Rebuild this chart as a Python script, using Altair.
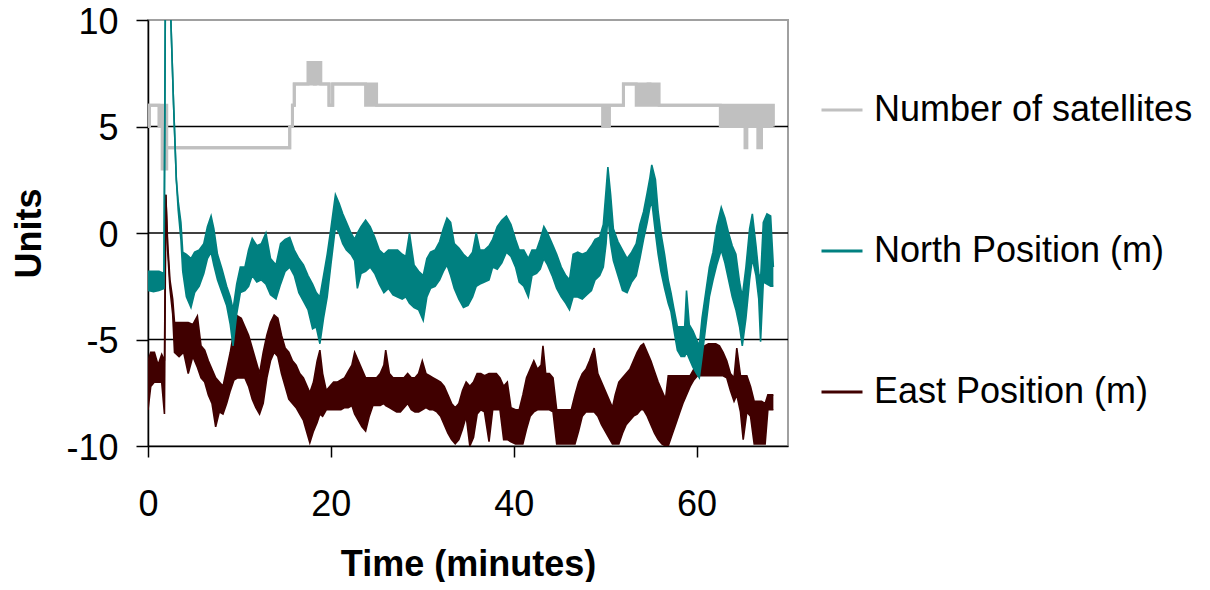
import altair as alt
import pandas as pd

FONT = "Liberation Sans, Arial, Helvetica, sans-serif"
SERIES = ["Number of satellites", "North Position (m)", "East Position (m)"]
COLORS = ["#c0c0c0", "#008080", "#400000"]
X_TICKS = [0, 20, 40, 60]
Y_TICKS = [-10, -5, 0, 5, 10]
GRID_Y = [-5, 0, 5]

# Number of satellites (step series): time (min), low, high of the toggling band
SAT_T = [0.0, 0.16, 1.2, 1.55, 2.05, 15.5, 15.8, 16.0, 17.5, 18.2, 18.3, 18.9,
         19.8, 20.2, 23.8, 25.0, 49.75, 50.0, 50.15, 50.45, 52.0, 53.4, 54.7,
         54.9, 55.9, 62.6, 65.3, 65.5, 66.7, 67.1, 68.4]
SAT_LO = [5, 6, 5, 3, 4, 5, 6, 7, 7, 7, 7, 7,
          6, 7, 6, 6, 5, 6, 5, 6, 7, 6, 7,
          6, 6, 5, 4, 5, 4, 5, 5]
SAT_HI = [5, 6, 6, 6, 4, 5, 6, 7, 8, 7, 8, 7,
          6, 7, 7, 6, 5, 6, 5, 6, 7, 7, 7,
          7, 6, 6, 6, 6, 6, 6, 5]

# North position (m): time, low, high envelope of the jittering trace
N_T = [0.0, 0.6, 1.2, 1.75, 1.9, 2.3, 2.5, 2.8, 3.1, 3.3, 3.6, 3.8, 4.2, 4.7, 5.1,
       5.6, 6.1, 6.5, 6.9, 7.2, 7.6, 8.1, 8.6, 9.0, 9.3, 9.7, 10.1, 10.6, 11.0,
       11.4, 11.9, 12.4, 12.9, 13.4, 14.0, 14.5, 15.0, 15.5, 16.0, 16.5, 17.0,
       17.5, 18.0, 18.4, 18.8, 19.2, 19.6, 20.0, 20.5, 20.9, 21.3, 21.7, 22.2,
       22.6, 22.9, 23.3, 23.8, 24.3, 24.8, 25.3, 25.8, 26.3, 26.8, 27.3, 27.8,
       28.2, 28.6, 29.1, 29.6, 30.1, 30.5, 30.9, 31.4, 31.9, 32.3, 32.7, 33.1,
       33.5, 34.0, 34.5, 35.0, 35.5, 35.9, 36.3, 36.8, 37.3, 37.7, 38.2, 38.7,
       39.2, 39.7, 40.2, 40.6, 41.1, 41.6, 42.0, 42.5, 42.9, 43.3, 43.7, 44.2,
       44.7, 45.2, 45.7, 46.1, 46.5, 47.0, 47.5, 48.0, 48.5, 48.9, 49.4, 49.8,
       50.1, 50.3, 50.6, 50.9, 51.4, 51.9, 52.4, 52.9, 53.4, 53.8, 54.2, 54.6,
       54.9, 55.1, 55.5, 55.8, 56.1, 56.5, 56.9, 57.2, 57.5, 57.9, 58.3, 58.7,
       58.9, 59.2, 59.6, 60.0, 60.3, 60.6, 61.0, 61.4, 61.8, 62.2, 62.7, 63.1,
       63.5, 63.9, 64.3, 64.7, 65.0, 65.4, 65.8, 66.1, 66.5, 66.8, 67.0, 67.3,
       67.7, 68.1, 68.4]
N_LO = [-2.7, -2.75, -2.7, -2.6, 11, 12, 10, 6, 2.5, 1.1, -0.3, -1.8, -3.0, -3.5, -2.8,
        -2.5, -1.9, -1.2, -0.9, -1.5, -2.2, -2.8, -3.4, -4.3, -5.3, -3.8, -2.8, -2.7, -2.5,
        -2.0, -2.3, -2.2, -2.4, -2.9, -3.1, -2.4, -1.8, -1.6, -2.0, -2.8, -3.2,
        -3.6, -4.5, -4.4, -5.2, -4.0, -3.0, -1.5, 0.3, 0.0, -0.5, -0.8, -1.0,
        -1.3, -2.6, -1.9, -1.8, -1.6, -1.9, -2.4, -2.8, -2.6, -2.9, -3.0, -3.1,
        -3.0, -3.3, -3.5, -3.6, -4.1, -3.0, -2.6, -2.5, -2.2, -1.8, -1.5, -2.0,
        -2.6, -3.1, -3.5, -3.4, -3.0, -2.5, -2.4, -2.3, -2.2, -1.6, -1.7, -1.4,
        -0.9, -1.1, -1.6, -2.3, -2.5, -3.0, -2.0, -1.9, -1.7, -1.2, -1.5, -2.0,
        -2.6, -3.0, -3.3, -3.6, -3.0, -3.0, -3.1, -2.9, -2.7, -2.2, -2.0, -1.6,
        -0.5, 0.8, -0.5, -1.3, -2.0, -2.7, -2.8, -2.3, -2.0, -1.2, -0.3, 0.5,
        1.2, 1.5, 0.0, -1.0, -1.8, -2.6, -3.3, -3.7, -4.5, -5.5, -5.8, -5.8,
        -5.6, -5.9, -6.3, -6.6, -6.8, -5.8, -4.4, -3.0, -2.2, -1.5, -0.8, -1.4,
        -2.2, -3.0, -3.6, -4.4, -5.3, -4.0, -2.2, -1.2, -2.0, -3.1, -5.1, -2.3,
        -2.4, -2.5, -2.5]
N_HI = [-1.8, -1.8, -1.8, -1.9, 11, 12, 10, 6, 2.5, 1.5, 0.5, -0.9, -1.0, -1.2, -0.9,
        -0.8, -0.5, 0.3, 0.8, 0.2, -1.0, -1.7, -2.5, -3.0, -3.6, -2.4, -1.6, -1.6, -0.8,
        -0.25, -0.6, -0.5, 0.0, -1.2, -1.5, -0.5, -0.3, -0.2, -0.8, -1.2, -1.5,
        -2.0, -2.4, -2.8, -3.0, -2.0, -1.0, 0.2, 1.8, 1.4, 0.9, 0.5, 0.0,
        -0.3, 0.0, 0.3, 0.6, 0.3, -0.2, -0.8, -1.0, -0.8, -0.8, -0.8, -1.0,
        -1.1, 0.0, -1.5, -1.8, -2.0, -1.2, -0.9, -0.8, -0.4, 0.2, 0.7, 0.5,
        -0.5, -0.7, -1.0, -1.2, -0.9, 0.0, -0.8, -0.8, -0.6, -0.3, 0.3, 0.6,
        0.8, 0.4, -0.3, -0.8, -0.8, -1.2, -0.8, -0.8, -0.3, 0.3, 0.0, -0.5,
        -1.0, -1.6, -2.0, -2.2, -1.0, -0.9, -1.0, -0.9, -0.6, -0.3, -0.2, 0.4,
        2.0, 3.1, 1.8, 0.2, -0.4, -0.8, -1.2, -0.9, -0.5, 0.4, 1.0, 1.9,
        2.6, 3.2, 2.5, 1.0, 0.0, -1.0, -2.2, -2.8, -3.5, -4.4, -4.4, -4.4,
        -2.7, -4.3, -4.6, -5.0, -5.3, -4.0, -2.8, -1.6, -0.9, 0.3, 1.2, 0.7,
        0.0, -0.6, -1.0, -2.3, -3.0, -1.6, 0.2, 0.9, -0.6, -1.9, -2.2, 0.5,
        0.9, 0.8, -1.6]

# East position (m): time, low, high envelope of the jittering trace
E_T = [0.0, 0.3, 0.7, 1.1, 1.5, 1.8, 1.95, 2.15, 2.4, 2.7, 2.9, 3.4, 3.9, 4.4, 4.9,
       5.4, 5.8, 6.2, 6.6, 7.0, 7.4, 7.8, 8.2, 8.6, 9.0, 9.4, 9.8, 10.2, 10.6,
       11.0, 11.4, 11.8, 12.2, 12.6, 13.0, 13.4, 13.8, 14.2, 14.6, 15.0, 15.4,
       15.8, 16.2, 16.6, 17.0, 17.4, 17.7, 18.1, 18.5, 18.8, 19.1, 19.5, 19.9,
       20.3, 20.7, 21.1, 21.5, 21.9, 22.3, 22.6, 23.0, 23.4, 23.8, 24.2, 24.6,
       25.0, 25.4, 25.8, 26.0, 26.4, 26.8, 27.2, 27.6, 28.0, 28.4, 28.8, 29.2,
       29.6, 30.0, 30.4, 30.8, 31.2, 31.6, 32.0, 32.4, 32.8, 33.2, 33.6, 34.0,
       34.4, 34.8, 35.2, 35.6, 36.0, 36.4, 36.8, 37.3, 37.7, 38.1, 38.5, 38.9,
       39.3, 39.7, 40.2, 40.6, 41.0, 41.4, 41.8, 42.2, 42.6, 43.0, 43.2, 43.5,
       43.9, 44.3, 44.7, 45.1, 45.5, 45.9, 46.3, 46.7, 47.1, 47.5, 47.9, 48.3,
       48.8, 49.2, 49.6, 50.0, 50.4, 50.8, 51.1, 51.5, 51.9, 52.3, 52.7, 53.1,
       53.5, 53.9, 54.2, 54.6, 55.0, 55.4, 55.8, 56.2, 56.6, 56.9, 57.3, 57.7,
       58.1, 58.5, 58.9, 59.3, 59.7, 60.1, 60.5, 60.9, 61.3, 61.7, 62.1, 62.5,
       62.9, 63.3, 63.7, 64.1, 64.4, 64.8, 65.1, 65.5, 65.9, 66.3, 66.7, 67.1,
       67.5, 67.8, 68.4]
E_LO = [-8.3, -7.2, -7.0, -7.0, -7.0, -8.5, 1.8, -0.8, -2.6, -3.8, -5.6, -5.8, -5.6, -6.6, -5.8,
        -6.3, -6.8, -7.0, -7.6, -8.0, -9.1, -8.4, -8.5, -8.0, -7.4, -6.9, -6.8, -6.8, -6.8,
        -7.2, -7.8, -8.2, -8.5, -8.0, -6.8, -6.0, -5.6, -5.8, -6.6, -7.2, -7.8,
        -8.0, -8.2, -8.5, -8.8, -9.4, -9.85, -9.3, -8.9, -8.5, -8.6, -8.3, -8.3,
        -8.3, -8.3, -8.3, -8.2, -8.2, -8.1, -8.5, -8.8, -9.1, -9.3, -8.6, -8.1,
        -8.1, -8.1, -8.0, -8.1, -8.2, -8.3, -8.4, -8.4, -8.2, -8.0, -8.3, -8.4,
        -8.4, -8.3, -8.2, -8.3, -8.3, -8.4, -8.6, -9.0, -9.4, -9.7, -9.9, -9.7,
        -9.2, -8.6, -10.0, -9.6, -8.5, -8.3, -8.4, -9.8, -8.3, -8.3, -8.3, -9.7,
        -9.7, -9.8, -9.9, -9.9, -9.9, -9.2, -8.6, -8.4, -8.3, -8.3, -8.3, -8.3,
        -8.3, -8.4, -9.9, -9.9, -9.9, -9.9, -9.9, -9.9, -9.3, -8.6, -8.4, -8.4,
        -8.4, -8.6, -9.0, -9.3, -9.6, -9.9, -9.9, -9.9, -9.4, -9.0, -8.8, -8.6,
        -8.5, -8.3, -8.3, -8.6, -9.0, -9.4, -9.7, -9.9, -10.0, -10.0, -9.5, -9.0,
        -8.5, -8.0, -7.6, -7.2, -6.9, -6.7, -6.7, -6.7, -6.7, -6.7, -6.7, -6.7,
        -6.7, -6.8, -7.4, -7.9, -7.6, -8.4, -9.7, -8.4, -8.6, -9.9, -9.9, -9.9,
        -9.9, -8.3, -8.3]
E_HI = [-6.0, -5.6, -5.6, -6.2, -5.7, -6.0, 1.8, -0.5, -2.2, -3.1, -4.2, -4.2, -4.2, -4.2, -4.3,
        -3.9, -5.3, -5.5, -6.0, -6.4, -6.8, -7.0, -7.2, -6.4, -5.6, -4.6, -3.9, -4.0, -4.4,
        -4.8, -5.4, -6.0, -6.6, -5.6, -4.8, -4.2, -3.85, -4.0, -4.8, -5.4, -5.6,
        -6.0, -6.2, -6.6, -6.8, -7.2, -7.5, -7.0, -6.0, -5.5, -6.6, -7.4, -7.2,
        -7.0, -7.0, -6.9, -6.8, -6.5, -6.2, -5.6, -6.0, -6.4, -6.8, -6.8, -6.8,
        -6.8, -6.6, -6.2, -5.5, -6.6, -6.8, -6.8, -6.8, -6.8, -6.6, -6.8, -6.8,
        -6.6, -6.0, -6.6, -6.7, -6.8, -6.9, -7.0, -7.2, -7.6, -8.0, -8.2, -8.0,
        -7.4, -7.0, -7.2, -7.0, -6.6, -6.6, -6.7, -6.6, -6.6, -6.6, -6.8, -7.2,
        -7.0, -8.2, -8.3, -8.3, -7.6, -6.8, -6.4, -6.0, -6.4, -6.2, -5.3, -6.6,
        -6.6, -6.8, -8.3, -8.3, -8.3, -8.3, -8.3, -7.6, -7.0, -6.6, -6.4, -6.0,
        -5.4, -6.6, -7.0, -7.4, -7.8, -8.2, -7.6, -7.0, -6.8, -6.6, -6.4, -6.0,
        -5.6, -5.3, -5.2, -5.6, -6.0, -6.5, -7.0, -7.4, -7.8, -6.7, -6.7, -6.7,
        -6.7, -6.7, -6.7, -6.7, -6.4, -6.2, -5.7, -5.3, -5.2, -5.2, -5.2, -5.3,
        -5.6, -6.0, -6.6, -6.8, -5.4, -6.7, -6.7, -6.7, -7.2, -7.9, -7.9, -7.9,
        -8.0, -7.6, -7.6]


def frame(name, t, lo, hi):
    return pd.DataFrame({"t": t, "lo": lo, "hi": hi, "series": name})


sat_df = frame(SERIES[0], SAT_T, SAT_LO, SAT_HI)
north_df = frame(SERIES[1], N_T, N_LO, N_HI)
east_df = frame(SERIES[2], E_T, E_LO, E_HI)

xs = alt.Scale(domain=[0, 70], nice=False, zero=False)
ys = alt.Scale(domain=[-10, 10], nice=False, zero=False)

x_axis = alt.Axis(values=X_TICKS, grid=False, tickSize=11, tickColor="black", tickWidth=1.5,
                  domainColor="black", domainWidth=1.5, labelFont=FONT, labelFontSize=36,
                  labelColor="black", labelPadding=30, labelFlush=False,
                  titleFont=FONT, titleFontSize=36, titleFontWeight="bold", titleColor="black",
                  titleX=320, titleY=129, titleBaseline="alphabetic", titleAlign="center")
y_axis = alt.Axis(values=Y_TICKS, grid=False, tickSize=12, tickColor="black", tickWidth=1.5,
                  domainColor="black", domainWidth=1.5, labelFont=FONT, labelFontSize=36,
                  labelColor="black", labelPadding=18, labelFlush=False, labelOffset=2,
                  labelExpr="'' + datum.value",
                  titleFont=FONT, titleFontSize=36, titleFontWeight="bold", titleColor="black",
                  titleX=-108, titleY=213, titleAngle=270, titleBaseline="alphabetic",
                  titleAlign="center")

legend = alt.Legend(title=None, orient="none", legendX=672, legendY=68, direction="vertical",
                    symbolType="stroke", symbolSize=1681, symbolStrokeWidth=3,
                    labelFont=FONT, labelFontSize=36, labelColor="black", labelOffset=10,
                    rowPadding=101, padding=0, labelLimit=500)


def X():
    return alt.X("t:Q", scale=xs, axis=x_axis, title="Time (minutes)")


def Y(field):
    return alt.Y(field, scale=ys, axis=y_axis, title="Units")


color = alt.Color("series:N", scale=alt.Scale(domain=SERIES, range=COLORS), legend=legend)


def series_layers(df, fill, width, interp):
    base = alt.Chart(df)
    area = base.mark_area(color=fill, interpolate=interp, clip=True, opacity=1).encode(
        x=X(), y=Y("lo:Q"), y2="hi:Q")
    lo = base.mark_line(strokeWidth=width, interpolate=interp, clip=True).encode(
        x=X(), y=Y("lo:Q"), color=color)
    hi = base.mark_line(strokeWidth=width, interpolate=interp, clip=True).encode(
        x=X(), y=Y("hi:Q"), color=color)
    return [area, lo, hi]


grid = alt.Chart(pd.DataFrame({"g": GRID_Y})).mark_rule(color="black", strokeWidth=1.5).encode(
    y=Y("g:Q"))

layers = [grid]
layers += series_layers(east_df, COLORS[2], 1.6, "linear")
layers += series_layers(sat_df, COLORS[0], 3, "step-after")
layers += series_layers(north_df, COLORS[1], 1.6, "linear")

chart = alt.layer(*layers).properties(
    width=640, height=426,
    padding={"left": 140, "top": 12, "right": 414, "bottom": 136},
    autosize=alt.AutoSizeParams(type="none"),
    background="white",
).configure_view(stroke="#a0a0a0", strokeWidth=2)

chart.save("out.html", embed_options={"renderer": "svg", "actions": False})
